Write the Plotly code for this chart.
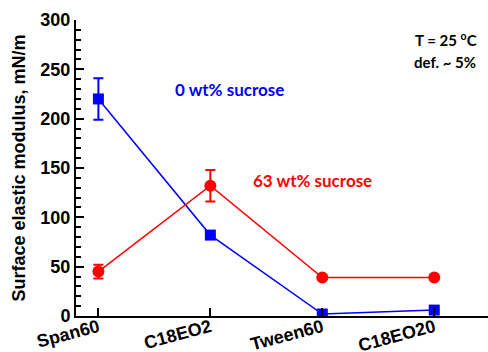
import plotly.graph_objects as go

categories = ["Span60", "C18EO2", "Tween60", "C18EO20"]
sucrose0 = [220, 82, 2, 6]
sucrose0_err = [21, 0, 0, 0]
sucrose63 = [45, 132, 39, 39]
sucrose63_err = [7, 16, 0, 0]
yticks = [0, 50, 100, 150, 200, 250, 300]

xi = list(range(len(categories)))

fig = go.Figure()
fig.add_trace(go.Scatter(
    x=xi, y=sucrose0, mode="lines+markers",
    line=dict(color="#0000ff", width=1.5),
    marker=dict(symbol="square", size=11, color="#0000ff"),
    error_y=dict(type="data", array=sucrose0_err, visible=True, color="#0000ff", thickness=2, width=5),
    showlegend=False))
fig.add_trace(go.Scatter(
    x=xi, y=sucrose63, mode="lines+markers",
    line=dict(color="#ff0000", width=1.5),
    marker=dict(symbol="circle", size=12, color="#ff0000"),
    error_y=dict(type="data", array=sucrose63_err, visible=True, color="#ff0000", thickness=2, width=5),
    showlegend=False))

W, H = 488, 352
L, R, T, B = 76, 0, 20, 36
pw, ph = W - L - R, H - T - B

def px2paper(x, y):
    return (x - L) / pw, 1 - (y - T) / ph

def ann(x, y, text, color, size):
    px, py = px2paper(x, y)
    return dict(x=px, y=py, xref="paper", yref="paper", text=text, showarrow=False,
                xanchor="center", yanchor="middle",
                font=dict(family="Lato", size=size, color=color, weight="bold"))

fig.update_layout(
    width=W, height=H,
    margin=dict(l=L, r=R, t=T, b=B),
    plot_bgcolor="white", paper_bgcolor="white",
    xaxis=dict(range=[-0.2, 3.48], tickvals=xi, ticktext=categories, tickangle=-15,
               showline=True, linecolor="black", linewidth=2, showgrid=False, zeroline=False,
               ticks="inside", ticklen=8, tickwidth=2, tickcolor="black",
               ticklabelstandoff=-8,
               tickfont=dict(family="Liberation Sans, Arial", size=18, color="black", weight="bold"),
               automargin=False),
    yaxis=dict(range=[0, 300], tickvals=yticks,
               showline=True, linecolor="black", linewidth=2, showgrid=False, zeroline=False,
               ticks="inside", ticklen=8, tickwidth=2, tickcolor="black",
               minor=dict(dtick=10, ticks="inside", ticklen=5, tickwidth=1.5, tickcolor="black"),
               tickfont=dict(family="Liberation Sans, Arial", size=18, color="black", weight="bold"),
               automargin=False,
               title=dict(text="Surface elastic modulus, mN/m", standoff=10,
                          font=dict(family="Liberation Sans, Arial", size=18, color="black", weight="bold"))),
    annotations=[
        ann(229, 89, "0 wt% sucrose", "#0000ff", 17),
        ann(312, 180, "63 wt% sucrose", "#ff0000", 17),
        ann(446, 40, "T = 25 <sup>o</sup>C", "black", 15),
        ann(445, 62, "def. ~ 5%", "black", 15),
    ],
)

fig.write_html("out.html")
